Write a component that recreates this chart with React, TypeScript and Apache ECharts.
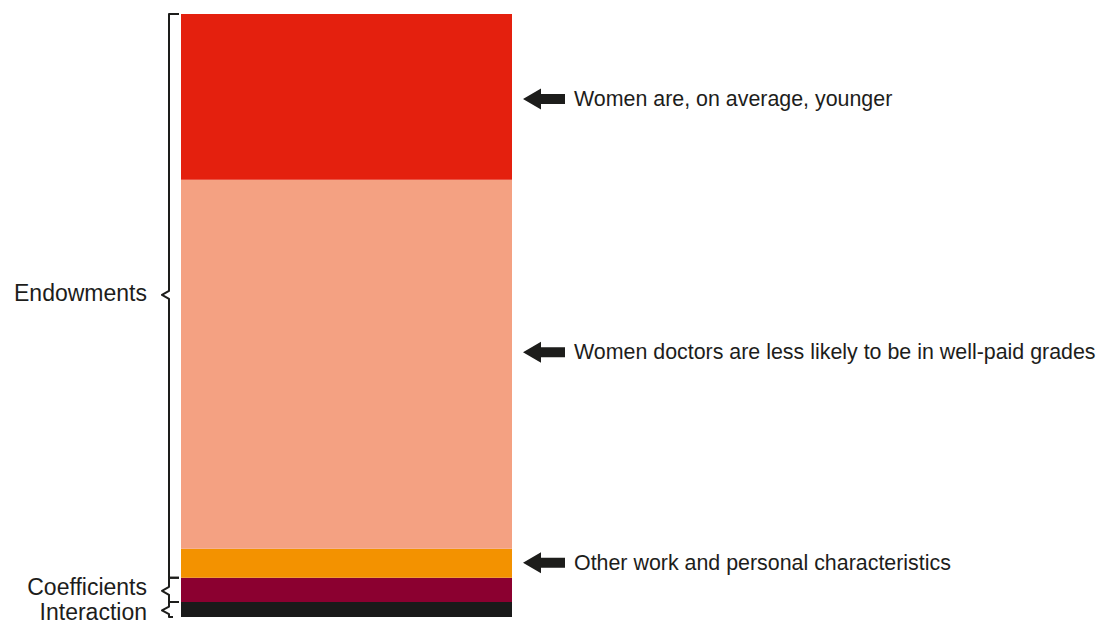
import React, { useEffect, useRef } from "react";
import * as echarts from "echarts";

// ---- data ----
const categories = ["Gender pay gap"];
const segmentNames = [
  "Interaction",
  "Coefficients",
  "Other work and personal characteristics",
  "Women doctors are less likely to be in well-paid grades",
  "Women are, on average, younger",
];
const segmentValues = [2.5, 4.0, 4.8, 61.2, 27.5];
const annotationTexts = [
  "Women are, on average, younger",
  "Women doctors are less likely to be in well-paid grades",
  "Other work and personal characteristics",
];
const annotationValues = [85.9, 43.9, 9.0];
const groupLabels = ["Endowments", "Coefficients", "Interaction"];
// index range (from, to) of segments covered by each group
const groupFrom = [2, 1, 0];
const groupTo = [4, 1, 0];

// ---- styles ----
const segmentColors = ["#1a1a1a", "#8b0030", "#f39200", "#f4a182", "#e4200e"];
const FONT = "'Liberation Sans', Arial, Helvetica, sans-serif";
const INK = "#1d1d1b";
const W = 1103;
const H = 624;
const GRID_LEFT = 181;
const GRID_TOP = 14;
const GRID_W = 331;
const GRID_H = 603;

export default function App() {
  const ref = useRef<HTMLDivElement>(null);
  useEffect(() => {
    if (!ref.current) return;
    const chart = echarts.init(ref.current, null, { renderer: "svg" });
    chart.setOption({
      animation: false,
      backgroundColor: "#ffffff",
      grid: { left: GRID_LEFT, top: GRID_TOP, width: GRID_W, height: GRID_H },
      xAxis: { type: "category", data: categories, show: false },
      yAxis: { type: "value", min: 0, max: 100, show: false },
      series: segmentNames.map((name, i) => ({
        name,
        type: "bar",
        stack: "total",
        barWidth: "100%",
        barCategoryGap: 0,
        data: [segmentValues[i]],
        itemStyle: { color: segmentColors[i] },
        silent: true,
      })),
    });

    const yPx = (v: number) => chart.convertToPixel({ yAxisIndex: 0 }, v) as number;
    const cum: number[] = [];
    segmentValues.reduce((acc, v, i) => {
      cum[i] = acc + v;
      return cum[i];
    }, 0);
    const barRight = GRID_LEFT + GRID_W;
    const graphics: any[] = [];

    // arrows + annotation texts
    annotationTexts.forEach((t, i) => {
      const cy = yPx(annotationValues[i]);
      const tip = barRight + 11;
      graphics.push({
        type: "polygon",
        shape: {
          points: [
            [tip, cy],
            [tip + 18, cy - 10.5],
            [tip + 18, cy - 5],
            [tip + 42, cy - 5],
            [tip + 42, cy + 5],
            [tip + 18, cy + 5],
            [tip + 18, cy + 10.5],
          ],
        },
        style: { fill: INK },
      });
      graphics.push({
        type: "text",
        x: tip + 51,
        y: cy,
        style: {
          text: t,
          fontSize: 21.4,
          fontFamily: FONT,
          fill: INK,
          align: "left",
          verticalAlign: "middle",
        },
      });
    });

    // brackets + group labels
    const bx = 169;
    const labelOffsets = [-2, -4, 1.5];
    groupLabels.forEach((lab, g) => {
      const lo = groupFrom[g] === 0 ? 0 : cum[groupFrom[g] - 1];
      const hi = cum[groupTo[g]];
      const yTop = yPx(hi);
      const yBot = yPx(lo);
      const mid = (yTop + yBot) / 2 + (g === 0 ? -1 : 1);
      const d = Math.min(4, (yBot - yTop) / 4);
      graphics.push({
        type: "polyline",
        shape: {
          points: [
            [179, yTop],
            [bx, yTop],
            [bx, mid - d],
            [bx - 7, mid],
            [bx, mid + d],
            [bx, yBot],
            [g === 2 ? 173 : 179, yBot],
          ],
        },
        style: { stroke: INK, lineWidth: 2, fill: "none", lineJoin: "round" },
      });
      graphics.push({
        type: "text",
        x: 147,
        y: mid + labelOffsets[g],
        style: {
          text: lab,
          fontSize: 23,
          lineHeight: 23,
          fontFamily: FONT,
          fill: INK,
          align: "right",
          verticalAlign: "middle",
        },
      });
    });

    chart.setOption({ graphic: graphics });
    return () => chart.dispose();
  }, []);

  return (
    <div
      ref={ref}
      style={{ position: "fixed", left: 0, top: 0, width: W, height: H, background: "#fff" }}
    />
  );
}
